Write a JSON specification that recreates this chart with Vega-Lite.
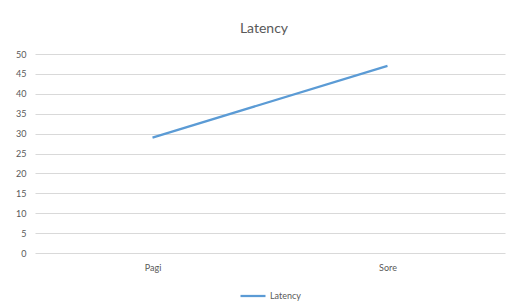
{
  "$schema": "https://vega.github.io/schema/vega-lite/v6.json",
  "width": 470,
  "height": 199,
  "autosize": {"type": "none"},
  "padding": {"left": 35, "top": 54, "right": 13, "bottom": 50},
  "background": "white",
  "title": {"text": "Latency", "fontSize": 14, "fontWeight": "normal", "color": "#595959", "font": "Lato", "offset": 14, "dx": -6},
  "data": {"values": [
    {"waktu": "Pagi", "latency": 29, "series": "Latency"},
    {"waktu": "Sore", "latency": 47, "series": "Latency"}
  ]},
  "mark": {"type": "line", "strokeWidth": 2.25},
  "encoding": {
    "x": {"field": "waktu", "type": "nominal", "sort": null,
      "scale": {"type": "point", "padding": 0.5},
      "axis": {"title": null, "labelAngle": 0, "ticks": false, "domain": false, "labelPadding": 10, "labelFontSize": 9, "labelColor": "#595959", "labelFont": "Lato", "grid": false}},
    "y": {"field": "latency", "type": "quantitative",
      "scale": {"domain": [0, 50], "nice": false},
      "axis": {"title": null, "values": [0,5,10,15,20,25,30,35,40,45,50], "ticks": false, "domain": false, "labelPadding": 9, "labelFontSize": 9, "labelColor": "#595959", "labelFont": "Lato", "gridColor": "#d9d9d9"}},
    "color": {"field": "series", "type": "nominal",
      "scale": {"range": ["#5B9BD5"]},
      "legend": {"title": null, "orient": "bottom", "symbolType": "stroke", "symbolStrokeWidth": 2.25, "symbolSize": 625, "labelOffset": 3, "labelFontSize": 9, "labelColor": "#595959", "labelFont": "Lato", "offset": 10}}
  },
  "config": {"view": {"stroke": null}, "legend": {"layout": {"bottom": {"anchor": "middle"}}}}
}
